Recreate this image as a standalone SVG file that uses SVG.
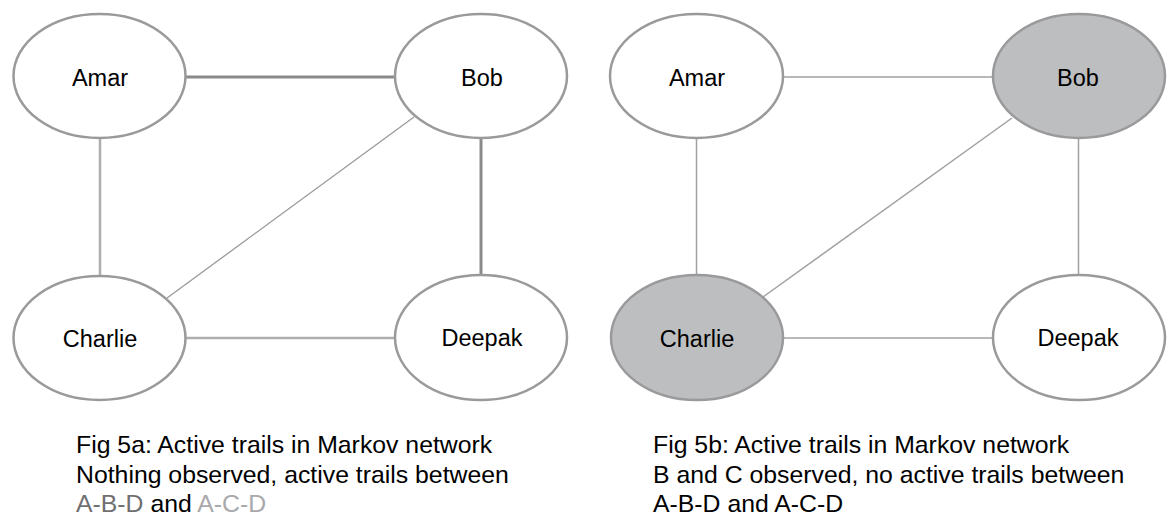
<svg xmlns="http://www.w3.org/2000/svg" width="1176" height="520" viewBox="0 0 1176 520">
<style>
.node{fill:#ffffff;stroke:#9a9a9c;stroke-width:2.5}
.obs{fill:#bdbec0}
.lbl{font-family:"Liberation Sans",Arial,sans-serif;font-size:23.5px;fill:#000;text-anchor:middle}
.cap{font-family:"Liberation Sans",Arial,sans-serif;font-size:24.8px;fill:#000}
.dark{stroke:#8a8a8c;stroke-width:3;fill:none}
.light{stroke:#aeaeb0;stroke-width:2.5;fill:none}
.thin{stroke:#9a9a9c;stroke-width:1.3;fill:none}
.thinr{stroke:#a0a0a2;stroke-width:1.5;fill:none}
</style>
<rect width="1176" height="520" fill="#ffffff"/>
<g id="connectors">
<line class="dark" x1="186" y1="77" x2="395" y2="77"/>
<line class="light" x1="100" y1="138" x2="100" y2="276"/>
<line class="dark" x1="481" y1="138" x2="481" y2="276"/>
<line class="light" x1="185" y1="338" x2="395" y2="338"/>
<line class="thin" x1="414" y1="117" x2="167" y2="298"/>
<line class="thinr" x1="783" y1="77" x2="993" y2="77"/>
<line class="thinr" x1="696.5" y1="138" x2="696.5" y2="275"/>
<line class="thinr" x1="1078.5" y1="138" x2="1078.5" y2="275"/>
<line class="thinr" x1="783" y1="338" x2="993" y2="338"/>
<line class="thinr" x1="1012" y1="118" x2="763" y2="297"/>
</g>
<g id="a-amar"><ellipse class="node" cx="99.5" cy="76" rx="86" ry="62"/><text class="lbl" x="100" y="86">Amar</text></g>
<g id="a-bob"><ellipse class="node" cx="481" cy="76" rx="86" ry="62"/><text class="lbl" x="482" y="86">Bob</text></g>
<g id="a-charlie"><ellipse class="node" cx="99.5" cy="338" rx="86" ry="62"/><text class="lbl" x="100" y="347">Charlie</text></g>
<g id="a-deepak"><ellipse class="node" cx="481" cy="337.5" rx="86" ry="62.5"/><text class="lbl" x="482" y="346">Deepak</text></g>
<g id="b-amar"><ellipse class="node" cx="696.5" cy="76" rx="86.5" ry="62"/><text class="lbl" x="697" y="86">Amar</text></g>
<g id="b-bob"><ellipse class="node obs" cx="1079" cy="76" rx="86" ry="62"/><text class="lbl" x="1078" y="86">Bob</text></g>
<g id="b-charlie"><ellipse class="node obs" cx="697" cy="337.5" rx="86" ry="62.5"/><text class="lbl" x="697" y="347">Charlie</text></g>
<g id="b-deepak"><ellipse class="node" cx="1079" cy="337.5" rx="86" ry="62.5"/><text class="lbl" x="1078" y="346">Deepak</text></g>
<g id="caption-a">
<text class="cap" x="76" y="453">Fig 5a: Active trails in Markov network</text>
<text class="cap" x="76" y="483">Nothing observed, active trails between</text>
<text class="cap" x="76" y="512"><tspan fill="#6f6f71">A-B-D</tspan> and <tspan fill="#a9a9ab">A-C-D</tspan></text>
</g>
<g id="caption-b">
<text class="cap" x="653" y="453">Fig 5b: Active trails in Markov network</text>
<text class="cap" x="653" y="483">B and C observed, no active trails between</text>
<text class="cap" x="653" y="512">A-B-D and A-C-D</text>
</g>
</svg>
